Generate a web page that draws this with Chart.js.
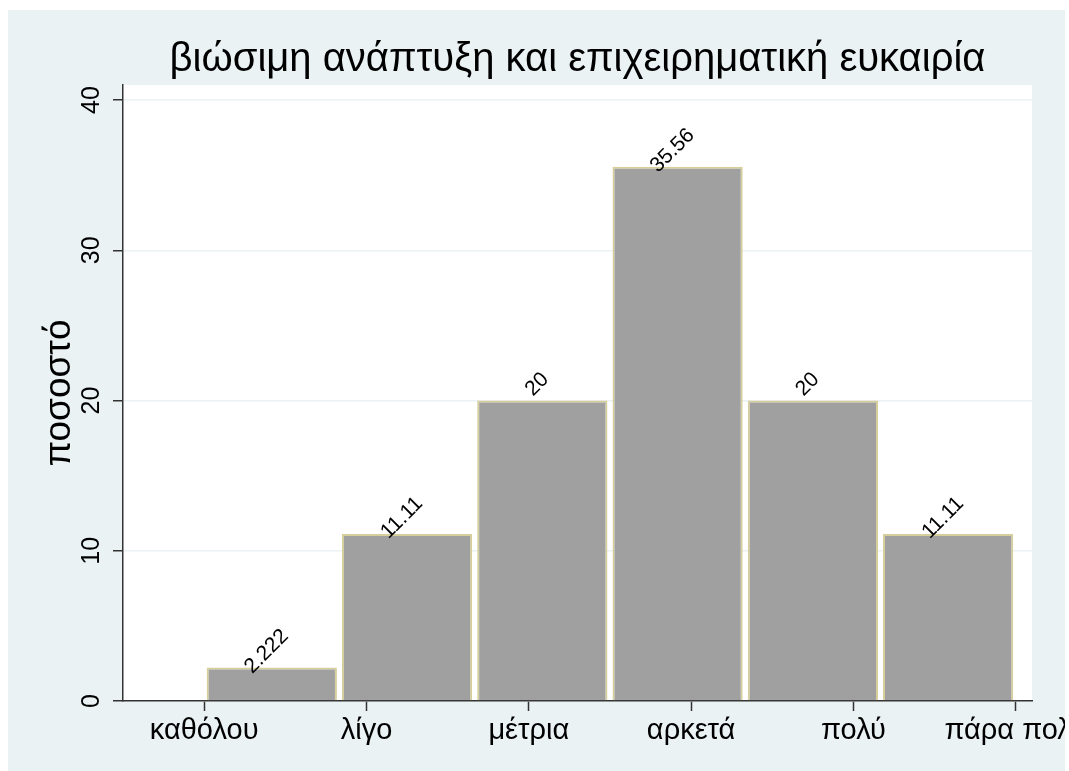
<!DOCTYPE html>
<html>
<head>
<meta charset="utf-8">
<script src="https://cdn.jsdelivr.net/npm/chart.js@4"></script>
<style>
  body { margin: 0; background: #fff; }
</style>
</head>
<body>
<canvas id="myChart" width="1069" height="771"></canvas>
<script>
// data
const categories = ["καθόλου", "λίγο", "μέτρια", "αρκετά", "πολύ", "πάρα πολύ"];
const categoryTicks = [1, 2, 3, 4, 5, 6];
const binCenters = [1.4167, 2.25, 3.0833, 3.9167, 4.75, 5.5833];
const percents = [2.222, 11.11, 20, 35.56, 20, 11.11];
const yTicks = [0, 10, 20, 30, 40];

const fontFamily = "'Liberation Sans', Arial, sans-serif";
const bgColor = "#eaf2f3";

// background: white outside, light blue graph region, white plot region
const backgroundPlugin = {
  id: "background",
  beforeDraw(chart) {
    const ctx = chart.ctx;
    const a = chart.chartArea;
    ctx.save();
    ctx.fillStyle = "#fff";
    ctx.fillRect(0, 0, chart.width, chart.height);
    ctx.fillStyle = bgColor;
    ctx.fillRect(8, 10, 1057, chart.height - 10);
    ctx.fillStyle = "#fff";
    ctx.fillRect(a.left, a.top, a.right - a.left, a.bottom - a.top);
    ctx.restore();
  },
  afterDraw(chart) {
    // the right label is cut off at the edge of the graph region
    const ctx = chart.ctx;
    ctx.save();
    ctx.fillStyle = "#fff";
    ctx.fillRect(1065, 0, chart.width - 1065, chart.height);
    ctx.restore();
  }
};

// y tick labels, rotated like Stata draws them
const yLabelsPlugin = {
  id: "yLabels",
  afterDraw(chart) {
    const ctx = chart.ctx;
    const y = chart.scales.y;
    ctx.save();
    ctx.font = "25px " + fontFamily;
    ctx.fillStyle = "#000";
    ctx.textAlign = "center";
    ctx.textBaseline = "middle";
    yTicks.forEach(v => {
      ctx.save();
      ctx.translate(92, y.getPixelForValue(v));
      ctx.rotate(-Math.PI / 2);
      ctx.fillText(String(v), 0, 0);
      ctx.restore();
    });
    ctx.restore();
  }
};

// value labels on top of the bars, at 45 degrees
const barLabelsPlugin = {
  id: "barLabels",
  afterDatasetsDraw(chart) {
    const ctx = chart.ctx;
    const meta = chart.getDatasetMeta(0);
    ctx.save();
    ctx.font = "21px " + fontFamily;
    ctx.fillStyle = "#000";
    ctx.textAlign = "center";
    ctx.textBaseline = "alphabetic";
    meta.data.forEach((bar, i) => {
      ctx.save();
      ctx.translate(bar.x - 1, bar.y - 12);
      ctx.rotate(-Math.PI / 4);
      ctx.fillText(String(percents[i]), 0, 0);
      ctx.restore();
    });
    ctx.restore();
  }
};

const ctx = document.getElementById("myChart").getContext("2d");
const myChart = new Chart(ctx, {
  type: "bar",
  data: {
    datasets: [
      {
        label: "ποσοστό",
        data: binCenters.map((x, i) => ({ x: x, y: percents[i] })),
        backgroundColor: "#a0a0a0",
        borderColor: "#d6cf9c",
        borderWidth: 2,
        barPercentage: 0.963,
        categoryPercentage: 1,
      },
    ],
  },
  options: {
    responsive: false,
    animation: false,
    layout: { padding: { left: 8, top: 10, right: 37, bottom: 0 } },
    plugins: {
      legend: { display: false },
      tooltip: { enabled: false },
      title: {
        display: true,
        fullSize: false,
        text: "βιώσιμη ανάπτυξη και επιχειρηματική ευκαιρία",
        color: "#000",
        font: { family: fontFamily, size: 40, weight: "normal" },
        padding: { top: 26, bottom: 1 },
      },
    },
    scales: {
      x: {
        type: "linear",
        min: 0.5,
        max: 6.1,
        offset: false,
        afterBuildTicks(scale) {
          scale.ticks = categoryTicks.map(v => ({ value: v }));
        },
        afterFit(scale) {
          scale.height = 70;
          scale.paddingLeft = 0;
          scale.paddingRight = 0;
        },
        ticks: {
          autoSkip: false,
          maxRotation: 0,
          minRotation: 0,
          padding: 3,
          color: "#000",
          font: { family: fontFamily, size: 29 },
          callback: v => categories[categoryTicks.indexOf(v)],
        },
        grid: {
          offset: false,
          drawOnChartArea: false,
          drawTicks: true,
          tickLength: 10,
          tickColor: "#333",
          tickWidth: 1.5,
        },
        border: { color: "#333", width: 1.5 },
      },
      y: {
        min: 0,
        max: 41,
        afterBuildTicks(scale) {
          scale.ticks = yTicks.map(v => ({ value: v }));
        },
        afterFit(scale) {
          scale.width = 115;
        },
        ticks: { display: false },
        grid: {
          color: bgColor,
          lineWidth: 1.5,
          drawTicks: true,
          tickLength: 10,
          tickColor: "#333",
          tickWidth: 1.5,
        },
        border: { color: "#333", width: 1.5 },
        title: {
          display: true,
          text: "ποσοστό",
          color: "#000",
          font: { family: fontFamily, size: 37 },
          padding: { top: 30, bottom: 0 },
        },
      },
    },
  },
  plugins: [backgroundPlugin, yLabelsPlugin, barLabelsPlugin],
});
</script>
</body>
</html>
